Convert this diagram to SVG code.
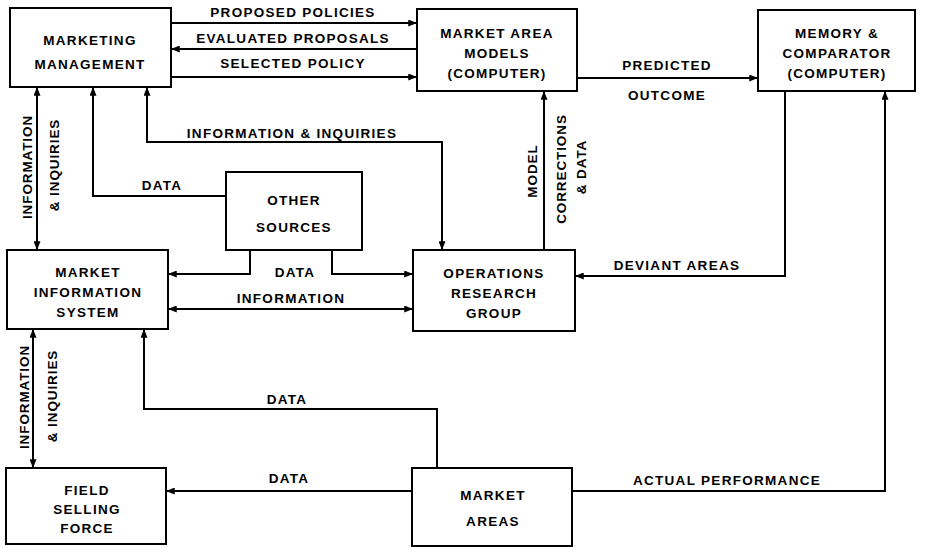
<svg xmlns="http://www.w3.org/2000/svg" width="933" height="547" viewBox="0 0 933 547">
<defs>
<marker id="arr" viewBox="0 0 10 8" refX="10" refY="4" markerWidth="10" markerHeight="7" markerUnits="userSpaceOnUse" orient="auto-start-reverse">
<path d="M0,0 L10,4 L0,8 z" fill="#000"/>
</marker>
<style>
rect.box{fill:#fff;stroke:#000;stroke-width:2}
text{font-family:"Liberation Sans",Arial,sans-serif;font-weight:bold;font-size:13.5px;letter-spacing:1.3px;fill:#000;text-anchor:middle}
text.v{letter-spacing:0.9px}
.c path{fill:none;stroke:#000;stroke-width:2}
.c path.a{marker-end:url(#arr)}
.c path.b{marker-start:url(#arr);marker-end:url(#arr)}
</style>
</defs>
<rect width="933" height="547" fill="#fff"/>
<g class="c" id="connectors">
<path class="a" d="M171,23 H417"/>
<path class="a" d="M417,49 H171"/>
<path class="a" d="M171,77 H417"/>
<path class="a" d="M577,78 H758"/>
<path class="a" d="M544,250 V91"/>
<path class="a" d="M785,91 V276 H575"/>
<path class="a" d="M572,491 H885 V91"/>
<path class="b" d="M37,87 V250"/>
<path class="b" d="M33,329 V468"/>
<path class="a" d="M226,196 H93 V87"/>
<path class="b" d="M147,87 V142 H442 V250"/>
<path class="a" d="M250,250 V274 H168"/>
<path class="a" d="M332,250 V274 H413"/>
<path class="b" d="M168,309 H413"/>
<path class="a" d="M437,468 V409 H144 V329"/>
<path class="a" d="M412,491 H166"/>
<text x="293" y="17">PROPOSED POLICIES</text>
<text x="293" y="43">EVALUATED PROPOSALS</text>
<text x="293" y="68">SELECTED POLICY</text>
<text x="667" y="70">PREDICTED</text>
<text x="667" y="100">OUTCOME</text>
<text x="292" y="138">INFORMATION &amp; INQUIRIES</text>
<text x="162" y="190">DATA</text>
<text x="295" y="277">DATA</text>
<text x="291" y="303">INFORMATION</text>
<text x="677" y="270">DEVIANT AREAS</text>
<text x="287" y="404">DATA</text>
<text x="289" y="483">DATA</text>
<text x="727" y="485">ACTUAL PERFORMANCE</text>
<text class="v" transform="translate(27,167) rotate(-90)" y="4.5">INFORMATION</text>
<text class="v" transform="translate(54,165) rotate(-90)" y="4.5">&amp; INQUIRIES</text>
<text class="v" transform="translate(24,397) rotate(-90)" y="4.5">INFORMATION</text>
<text class="v" transform="translate(52,396) rotate(-90)" y="4.5">&amp; INQUIRIES</text>
<text class="v" transform="translate(532,171) rotate(-90)" y="4.5">MODEL</text>
<text class="v" transform="translate(561,169) rotate(-90)" y="4.5">CORRECTIONS</text>
<text class="v" transform="translate(581,167) rotate(-90)" y="4.5">&amp; DATA</text>
</g>
<g id="marketing-management">
<rect class="box" x="10" y="8" width="161" height="79"/>
<text x="90" y="45">MARKETING</text>
<text x="90" y="69">MANAGEMENT</text>
</g>
<g id="market-area-models">
<rect class="box" x="417" y="9" width="160" height="82"/>
<text x="497" y="38">MARKET AREA</text>
<text x="497" y="58">MODELS</text>
<text x="497" y="78">(COMPUTER)</text>
</g>
<g id="memory-comparator">
<rect class="box" x="758" y="10" width="157" height="81"/>
<text x="837" y="38">MEMORY &amp;</text>
<text x="837" y="58">COMPARATOR</text>
<text x="837" y="78">(COMPUTER)</text>
</g>
<g id="other-sources">
<rect class="box" x="226" y="172" width="136" height="78"/>
<text x="294" y="205">OTHER</text>
<text x="294" y="232">SOURCES</text>
</g>
<g id="market-information-system">
<rect class="box" x="7" y="250" width="161" height="79"/>
<text x="88" y="277">MARKET</text>
<text x="88" y="297">INFORMATION</text>
<text x="88" y="317">SYSTEM</text>
</g>
<g id="operations-research-group">
<rect class="box" x="413" y="250" width="162" height="81"/>
<text x="494" y="278">OPERATIONS</text>
<text x="494" y="298">RESEARCH</text>
<text x="494" y="318">GROUP</text>
</g>
<g id="field-selling-force">
<rect class="box" x="6" y="468" width="160" height="76"/>
<text x="87" y="495">FIELD</text>
<text x="87" y="514">SELLING</text>
<text x="87" y="533">FORCE</text>
</g>
<g id="market-areas">
<rect class="box" x="412" y="468" width="160" height="78"/>
<text x="493" y="500">MARKET</text>
<text x="493" y="526">AREAS</text>
</g>
</svg>
